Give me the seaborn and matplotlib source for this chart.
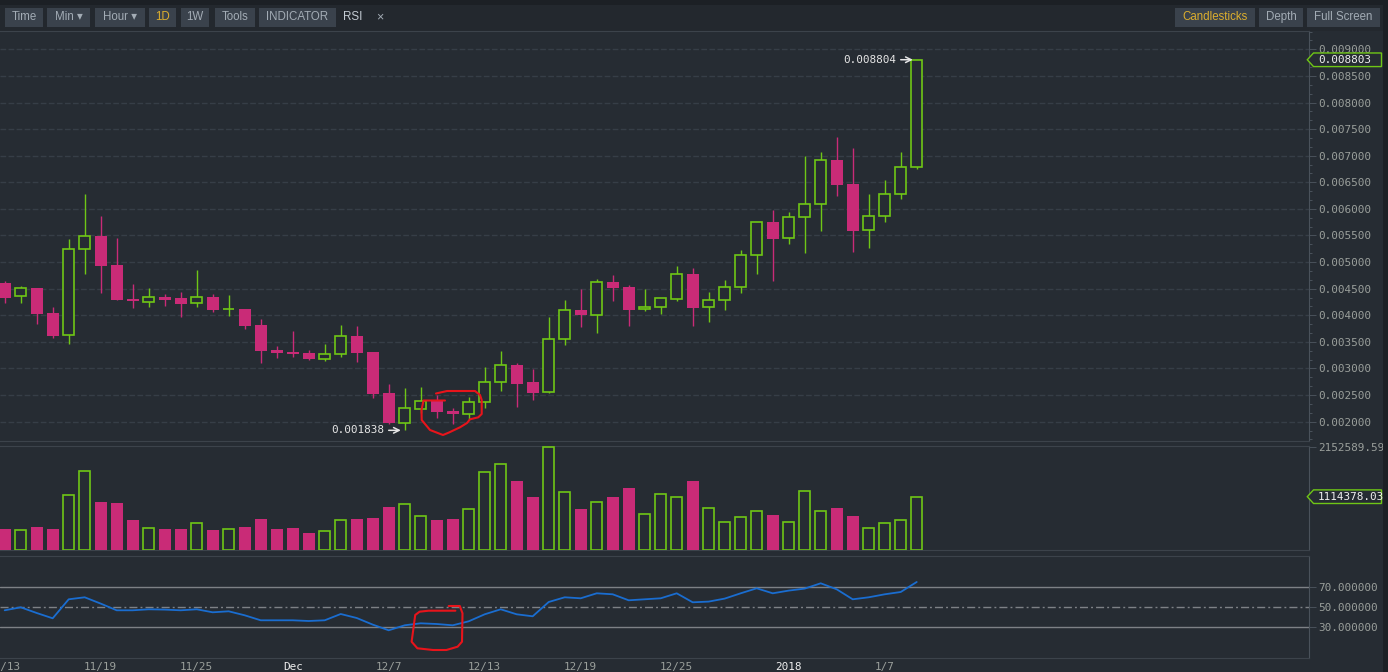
import numpy as np
import pandas as pd
import matplotlib
matplotlib.use("Agg")
import matplotlib.pyplot as plt
import seaborn as sns
from matplotlib.patches import Polygon, Rectangle
from matplotlib.lines import Line2D
from matplotlib.transforms import IdentityTransform
from matplotlib.ticker import AutoMinorLocator, FormatStrFormatter, FixedLocator

# ---------------- data ----------------
dates = pd.date_range("2017-11-13", "2018-01-09", freq="D")

open_ = [0.004600, 0.004357, 0.004508, 0.004043, 0.003635, 0.005241, 0.005485, 0.004940, 0.004306, 0.004244,
         0.004344, 0.004325, 0.004226, 0.004344, 0.004110, 0.004118, 0.003818, 0.003348, 0.003310, 0.003291,
         0.003184, 0.003267, 0.003605, 0.003305, 0.002534, 0.001981, 0.002244, 0.002383, 0.002201, 0.002139,
         0.002365, 0.002741, 0.003060, 0.002741, 0.002553, 0.003549, 0.004100, 0.004011, 0.004620, 0.004532,
         0.004113, 0.004150, 0.004301, 0.004776, 0.004150, 0.004282, 0.004526, 0.005128, 0.005754, 0.005447,
         0.005842, 0.006086, 0.006920, 0.006470, 0.005598, 0.005861, 0.006274, 0.006782]
high = [0.004645, 0.004551, 0.004520, 0.004156, 0.005429, 0.006280, 0.005867, 0.005447, 0.004583, 0.004508,
        0.004395, 0.004438, 0.004852, 0.004395, 0.004382, 0.004125, 0.003925, 0.003423, 0.003705, 0.003342,
        0.003466, 0.003812, 0.003800, 0.003310, 0.002709, 0.002628, 0.002647, 0.002502, 0.002252, 0.002459,
        0.003023, 0.003323, 0.003098, 0.002985, 0.003968, 0.004287, 0.004494, 0.004682, 0.004758, 0.004570,
        0.004494, 0.004330, 0.004927, 0.004889, 0.004438, 0.004664, 0.005227, 0.005750, 0.005979, 0.005942,
        0.006994, 0.007070, 0.007352, 0.007145, 0.006280, 0.006543, 0.007070, 0.008804]
low = [0.004237, 0.004237, 0.003842, 0.003579, 0.003466, 0.004782, 0.004425, 0.004280, 0.004143, 0.004162,
       0.004180, 0.003974, 0.004162, 0.004068, 0.003992, 0.003748, 0.003109, 0.003203, 0.003222, 0.003160,
       0.003141, 0.003222, 0.003128, 0.002451, 0.001950, 0.001838, 0.002158, 0.002075, 0.001962, 0.002056,
       0.002263, 0.002583, 0.002282, 0.002414, 0.002540, 0.003447, 0.003786, 0.003673, 0.004274, 0.003805,
       0.004086, 0.004030, 0.004274, 0.003805, 0.003880, 0.004094, 0.004414, 0.004782, 0.004650, 0.005335,
       0.005177, 0.005590, 0.006237, 0.005195, 0.005271, 0.005759, 0.006192, 0.006756]
close = [0.004331, 0.004508, 0.004030, 0.003617, 0.005241, 0.005485, 0.004932, 0.004293, 0.004263, 0.004338,
         0.004293, 0.004218, 0.004338, 0.004105, 0.004116, 0.003805, 0.003335, 0.003297, 0.003278, 0.003179,
         0.003267, 0.003605, 0.003297, 0.002526, 0.001975, 0.002252, 0.002383, 0.002188, 0.002150, 0.002365,
         0.002741, 0.003060, 0.002714, 0.002545, 0.003549, 0.004094, 0.004011, 0.004620, 0.004519, 0.004105,
         0.004150, 0.004320, 0.004771, 0.004143, 0.004282, 0.004526, 0.005128, 0.005748, 0.005440, 0.005842,
         0.006086, 0.006914, 0.006455, 0.005590, 0.005861, 0.006274, 0.006788, 0.008803]
volume = [437700, 410000, 480000, 438000, 1150000, 1658000, 1009000, 987000, 628000, 452000,
          438000, 438000, 558000, 417000, 431000, 480000, 649000, 438000, 459000, 353000,
          389000, 622000, 649000, 670000, 903000, 960000, 706000, 628000, 649000, 854000,
          1637000, 1806000, 1453000, 1114000, 2152589.59, 1214000, 861000, 1002000, 1110000, 1305000,
          749000, 1171000, 1108000, 1453000, 875000, 579000, 685000, 812000, 734000, 579000,
          1235000, 812000, 882000, 713000, 452000, 558000, 622000, 1114378.03]
rsi = [47.0, 50.0, 44.3, 39.0, 58.0, 60.0, 53.7, 47.0, 47.0, 48.0,
       47.7, 47.0, 48.0, 45.0, 46.0, 42.0, 37.0, 37.0, 37.0, 36.3,
       37.0, 43.3, 39.3, 32.7, 27.0, 32.0, 34.0, 33.3, 32.0, 36.0,
       43.0, 48.0, 43.0, 41.0, 55.3, 60.0, 59.0, 64.0, 63.0, 57.0,
       58.0, 59.0, 64.0, 55.0, 55.7, 58.7, 64.0, 69.0, 64.0, 66.7,
       68.7, 74.0, 68.0, 58.0, 60.0, 63.0, 65.3, 75.3]
rsi_levels = [70, 50, 30]
tick_dates = ["2017-11-13", "2017-11-19", "2017-11-25", "2017-12-01", "2017-12-07",
              "2017-12-13", "2017-12-19", "2017-12-25", "2018-01-01", "2018-01-07"]
tick_labels = ["11/13", "11/19", "11/25", "Dec", "12/7", "12/13", "12/19", "12/25", "2018", "1/7"]
bold_labels = ["Dec", "2018"]
price_ticks = [0.002, 0.0025, 0.003, 0.0035, 0.004, 0.0045, 0.005, 0.0055,
               0.006, 0.0065, 0.007, 0.0075, 0.008, 0.0085, 0.009]
toolbar_left = ["Time", "Min \u25BE", "Hour \u25BE", "1D", "1W", "Tools", "INDICATOR"]
toolbar_right = ["Candlesticks", "Depth", "Full Screen"]
active_buttons = ["1D", "Candlesticks"]

# ---------------- style ----------------
W, H, DPI = 1388, 672, 100
BG = "#262c33"
BAR_BG = "#23282e"
GREEN = "#6fc616"
RED = "#c92b77"
GRID = "#363e47"
SPINE = "#3c434b"
AXLINE = "#4a525b"
TICK = "#9a9f9b"
BLUE = "#1a6dd0"
LEVEL = "#7d8186"
MONO = ["DejaVu Sans Mono", "DejaVu Sans"]
SANS = ["Liberation Sans", "DejaVu Sans"]

sns.set_style("dark", {"axes.facecolor": BG, "figure.facecolor": BG,
                       "axes.edgecolor": SPINE, "grid.color": GRID,
                       "text.color": TICK, "xtick.color": TICK, "ytick.color": TICK})
plt.rcParams["font.family"] = MONO
plt.rcParams["lines.scale_dashes"] = False

fig = plt.figure(figsize=(W / DPI, H / DPI), dpi=DPI, facecolor=BG)


def rect(x0, y0, x1, y1):
    return [x0 / W, 1 - y1 / H, (x1 - x0) / W, (y1 - y0) / H]


PLOT_R = 1309
ax_p = fig.add_axes(rect(0, 31, PLOT_R, 441))
ax_v = fig.add_axes(rect(0, 446, PLOT_R, 550.3))
ax_r = fig.add_axes(rect(0, 555.7, PLOT_R, 658.3))

x = np.arange(len(dates))
o, h, l, c = (np.array(a) for a in (open_, high, low, close))
vol = np.array(volume)
up = c >= o
cols = np.where(up, GREEN, RED)

STEP = 16.0
XL = (-4.7 / STEP, (PLOT_R - 4.7) / STEP)
for ax in (ax_p, ax_v, ax_r):
    ax.set_xlim(*XL)
    ax.set_facecolor(BG)
    ax.spines["left"].set_visible(False)
    for s in ("top", "bottom"):
        ax.spines[s].set_color(SPINE)
        ax.spines[s].set_linewidth(0.8)
    ax.spines["right"].set_color(AXLINE)
    ax.spines["right"].set_linewidth(0.8)
    ax.yaxis.tick_right()
    ax.tick_params(axis="y", which="major", direction="out", length=5, width=0.7,
                   color=AXLINE, labelcolor=TICK, labelsize=7.9, pad=1.5)
    ax.tick_params(axis="y", which="minor", direction="out", length=2.5, width=0.7, color=AXLINE)
    ax.grid(False)

# ---------------- price ----------------
ax_p.set_ylim(0.0016372, 0.009344)
ax_p.yaxis.set_major_locator(FixedLocator(price_ticks))
ax_p.yaxis.set_minor_locator(AutoMinorLocator(3))
ax_p.yaxis.set_major_formatter(FormatStrFormatter("%.6f"))
ax_p.yaxis.grid(True, which="major", color=GRID, lw=1.0, linestyle=(0, (4.1, 1.7)))
ax_p.set_axisbelow(True)
ax_p.set_xticks([])

ax_p.vlines(x, l, h, colors=cols, lw=1.0, zorder=2)
ax_p.bar(x[~up], (o - c)[~up], bottom=c[~up], width=0.75, color=RED, lw=0, zorder=3)
ax_p.bar(x[up], np.maximum((c - o)[up], 2e-6), bottom=o[up], width=0.68,
         facecolor=BG, edgecolor=GREEN, lw=1.2, zorder=3)

imax = int(np.argmax(h))
imin = int(np.argmin(l))
for i, val in ((imax, h[imax]), (imin, l[imin])):
    ax_p.annotate("", xy=(x[i], val), xytext=(-16, 0), textcoords="offset pixels",
                  arrowprops=dict(arrowstyle="->", color="#e6e6e6", lw=1.1,
                                  shrinkA=0, shrinkB=2.8, mutation_scale=10), zorder=6)
    ax_p.annotate(f"{val:.6f}", xy=(x[i], val), xytext=(-20, 0), textcoords="offset pixels",
                  ha="right", va="center", color="#e6e6e6", fontsize=7.9, zorder=6)

# ---------------- volume ----------------
ax_v.set_ylim(-12600, 2179916)
ax_v.bar(x[~up], vol[~up], width=0.75, color=RED, lw=0, zorder=3)
ax_v.bar(x[up], vol[up], width=0.68, facecolor=BG, edgecolor=GREEN, lw=1.2, zorder=3)
vmax = vol.max()
ax_v.yaxis.set_major_locator(FixedLocator([vmax]))
ax_v.yaxis.set_major_formatter(FormatStrFormatter("%.2f"))
ax_v.set_xticks([])

# ---------------- RSI ----------------
ax_r.set_ylim(-1, 101.6)
for lv in rsi_levels:
    ls = (0, (5.8, 2.2, 1.4, 2.2)) if lv == 50 else "-"
    ax_r.axhline(lv, color=LEVEL, lw=1.0, linestyle=ls, zorder=1)
sns.lineplot(x=x, y=rsi, ax=ax_r, color=BLUE, lw=1.3, zorder=3)
ax_r.set_xlabel("")
ax_r.set_ylabel("")
ax_r.yaxis.set_major_locator(FixedLocator(rsi_levels))
ax_r.yaxis.set_major_formatter(FormatStrFormatter("%.6f"))
tick_pos = [dates.get_loc(pd.Timestamp(d)) for d in tick_dates]
ax_r.set_xticks(tick_pos)
ax_r.set_xticklabels(tick_labels)
ax_r.tick_params(axis="x", length=0, pad=2.5, labelsize=7.9)
for lab in ax_r.get_xticklabels():
    lab.set_color("#eeeeee" if lab.get_text() in bold_labels else TICK)

ax_p.set_xlim(*XL)
ax_v.set_xlim(*XL)
ax_r.set_xlim(*XL)


# ---------------- current value tags ----------------
def tag(ax, value, text):
    yd = ax.transData.transform((0, value))[1]
    x0 = ax.transAxes.transform((1, 0))[0]
    pts = [(x0 - 1.7, yd), (x0 + 4.5, yd + 6.8), (x0 + 72.5, yd + 6.8),
           (x0 + 72.5, yd - 6.8), (x0 + 4.5, yd - 6.8)]
    fig.add_artist(Polygon(pts, closed=True, transform=IdentityTransform(),
                           facecolor=BG, edgecolor=GREEN, lw=1.0, zorder=10))
    fig.text((x0 + 9) / W, yd / H, text, color="#f0f0f0", fontsize=7.9,
             ha="left", va="center", zorder=11)


tag(ax_p, c[-1], f"{c[-1]:.6f}")
tag(ax_v, vol[-1], f"{vol[-1]:.2f}")

# ---------------- toolbar & frame ----------------
fig.add_artist(Rectangle((0, 1 - 31 / H), 1, 26 / H, transform=fig.transFigure,
                         facecolor=BAR_BG, lw=0, zorder=0))
fig.add_artist(Rectangle((0, 1 - 5 / H), 1, 5 / H, transform=fig.transFigure,
                         facecolor="#1c2025", lw=0, zorder=0))
fig.add_artist(Rectangle((1383 / W, 0), 5 / W, 1, transform=fig.transFigure,
                         facecolor="#1c2025", lw=0, zorder=12))

left_spans = [(5, 42.7), (47.3, 90), (95.3, 144.7), (149.3, 176), (181, 209.3),
              (215, 254.7), (259.3, 335.7)]
right_spans = [(1175, 1255), (1259.3, 1302.7), (1307.3, 1380)]
by0, by1 = 8, 26.7
for name, (x0, x1) in list(zip(toolbar_left, left_spans)) + list(zip(toolbar_right, right_spans)):
    fig.add_artist(Rectangle((x0 / W, 1 - by1 / H), (x1 - x0) / W, (by1 - by0) / H,
                             transform=fig.transFigure, facecolor="#3a424c", lw=0, zorder=1))
    fig.text((x0 + x1) / 2 / W, 1 - (by0 + by1) / 2 / H, name,
             color="#dcae2e" if name in active_buttons else "#a3acb5",
             fontsize=8.3, family=SANS, ha="center", va="center", zorder=2)
fig.text(353 / W, 1 - 17.3 / H, "RSI", color="#c3cbd3", fontsize=8.4, family=SANS,
         ha="center", va="center")
fig.text(379.5 / W, 1 - 17.3 / H, "\u00D7", color="#a3acb5", fontsize=9, family=SANS,
         ha="center", va="center")

# ---------------- hand-drawn red marks ----------------
loops = [
    [(445, 400.5), (423.5, 400.5), (421.5, 410), (421.7, 420), (430, 430), (443, 435),
     (449, 432.5), (460, 427.3), (467, 423), (470, 419.3), (478.3, 417.3), (481.7, 414),
     (481.7, 400), (480, 395), (475, 391), (447, 391), (436, 393.5)],
    [(448.7, 606), (459.8, 606), (462.5, 613.3), (462, 641.7), (457.6, 646.7), (446.4, 650),
     (433, 650), (417.4, 648.3), (411.6, 641.7), (413, 631.7), (415.2, 615), (419.6, 611.7),
     (428.6, 610.7), (455.4, 610.7)],
]
for loop in loops:
    xs = [p[0] for p in loop]
    ys = [H - p[1] for p in loop]
    fig.add_artist(Line2D(xs, ys, transform=IdentityTransform(), color="#e8141b",
                          lw=1.5, solid_joinstyle="round", zorder=20))

fig.savefig("out.png", dpi=DPI, facecolor=BG)
